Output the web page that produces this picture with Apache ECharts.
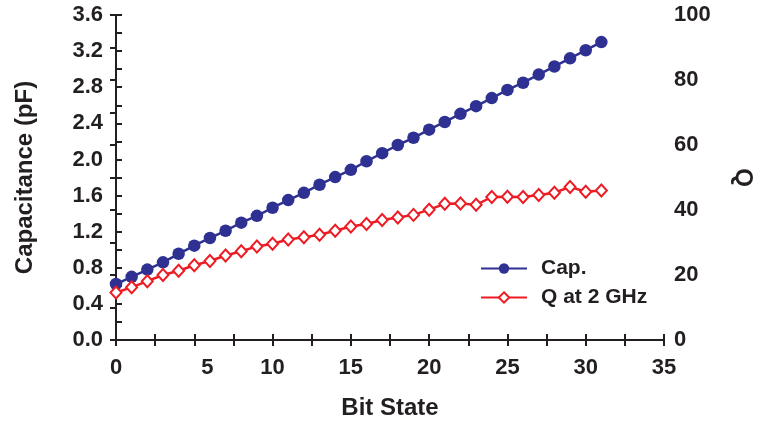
<!DOCTYPE html>
<html>
<head>
<meta charset="utf-8">
<script src="https://cdn.jsdelivr.net/npm/echarts@6/dist/echarts.min.js"></script>
<style>
  html, body { margin: 0; padding: 0; background: #fff; }
  #chart { width: 763px; height: 425px; }
</style>
</head>
<body>
<div id="chart"></div>
<script>
// Bit states 0..31
const bitStates = [0,1,2,3,4,5,6,7,8,9,10,11,12,13,14,15,16,17,18,19,20,21,22,23,24,25,26,27,28,29,30,31];
// Capacitance in pF per bit state
const capValues = [0.62,0.70,0.78,0.86,0.955,1.045,1.13,1.21,1.30,1.375,1.465,1.55,1.63,1.72,1.805,1.885,1.98,2.07,2.16,2.24,2.33,2.415,2.505,2.59,2.68,2.77,2.85,2.94,3.03,3.12,3.21,3.30];
// Quality factor at 2 GHz per bit state
const qValues = [14.6,16.2,18.1,20.0,21.3,23.0,24.3,26.0,27.3,28.8,29.6,30.9,31.6,32.4,33.6,34.9,35.7,36.9,37.7,38.5,40.1,41.9,42.0,41.6,44.0,44.1,44.0,44.6,45.3,47.1,45.6,46.0];
const capTicks = { min: 0, max: 3.6, step: 0.4 };
const qTicks = { min: 0, max: 100, step: 20 };
const xTicks = { min: 0, max: 35, step: 5 };

const FONT = '"Liberation Sans", Arial, sans-serif';
const INK = '#231f20';
const BLUE = '#2e3192';
const RED = '#ed1c24';

const tickText = { color: INK, fontFamily: FONT, fontWeight: 'bold', fontSize: 22 };
const titleText = { color: INK, fontFamily: FONT, fontWeight: 'bold', fontSize: 24 };
const frameLine = { show: true, lineStyle: { color: INK, width: 2 } };
const tickStyle = { show: true, inside: true, length: 6, lineStyle: { color: INK, width: 2 } };
const minorStyle = { show: true, splitNumber: 2, length: 6, lineStyle: { color: INK, width: 2 } };

const chart = echarts.init(document.getElementById('chart'), null, { renderer: 'canvas' });
chart.setOption({
  animation: false,
  backgroundColor: '#fff',
  grid: { left: 116, right: 95, top: 15, bottom: 81 },
  legend: {
    left: 480, top: 258, padding: 0,
    orient: 'vertical',
    itemWidth: 46, itemHeight: 13, itemGap: 8,
    textStyle: { color: INK, fontFamily: FONT, fontWeight: 'bold', fontSize: 21, padding: [0, 0, 0, 9] },
    data: ['Cap.', 'Q at 2 GHz']
  },
  xAxis: [
    {
      type: 'value', position: 'bottom',
      min: xTicks.min, max: xTicks.max, interval: xTicks.step,
      name: 'Bit State', nameLocation: 'middle', nameGap: 56,
      nameTextStyle: titleText,
      axisLine: frameLine, axisTick: tickStyle, minorTick: minorStyle,
      axisLabel: Object.assign({
        margin: 17,
        // the "5" label sits a little right of its tick
        formatter: v => (v === 5 ? '{shift|5}' : String(v)),
        rich: { shift: Object.assign({ padding: [0, 0, 0, 26] }, tickText) }
      }, tickText),
      splitLine: { show: false }
    },
    {
      type: 'value', position: 'top',
      min: xTicks.min, max: xTicks.max, interval: xTicks.step,
      axisLine: frameLine, axisTick: tickStyle, minorTick: minorStyle,
      axisLabel: { show: false }, splitLine: { show: false }
    }
  ],
  yAxis: [
    {
      type: 'value', position: 'left',
      min: capTicks.min, max: capTicks.max, interval: capTicks.step,
      name: 'Capacitance (pF)', nameLocation: 'middle', nameGap: 79,
      nameTextStyle: titleText,
      axisLine: frameLine, axisTick: tickStyle, minorTick: minorStyle,
      axisLabel: Object.assign({ margin: 13, formatter: v => v.toFixed(1) }, tickText),
      splitLine: { show: false }
    },
    {
      type: 'value', position: 'right',
      min: qTicks.min, max: qTicks.max, interval: qTicks.step,
      name: 'Q', nameLocation: 'middle', nameGap: 67, nameRotate: -90,
      nameTextStyle: titleText,
      axisLine: frameLine, axisTick: tickStyle, minorTick: minorStyle,
      axisLabel: Object.assign({ margin: 10 }, tickText),
      splitLine: { show: false }
    }
  ],
  series: [
    {
      name: 'Cap.', type: 'line', xAxisIndex: 0, yAxisIndex: 0,
      data: bitStates.map((b, i) => [b, capValues[i]]),
      symbol: 'circle', symbolSize: 12.5,
      lineStyle: { color: BLUE, width: 2.5 },
      itemStyle: { color: BLUE, borderColor: BLUE, borderWidth: 0 }
    },
    {
      name: 'Q at 2 GHz', type: 'line', xAxisIndex: 0, yAxisIndex: 1,
      data: bitStates.map((b, i) => [b, qValues[i]]),
      symbol: 'diamond', symbolSize: [11, 12],
      showAllSymbol: true,
      lineStyle: { color: RED, width: 2.5 },
      itemStyle: { color: '#fff', borderColor: RED, borderWidth: 2 }
    }
  ]
});
</script>
</body>
</html>
